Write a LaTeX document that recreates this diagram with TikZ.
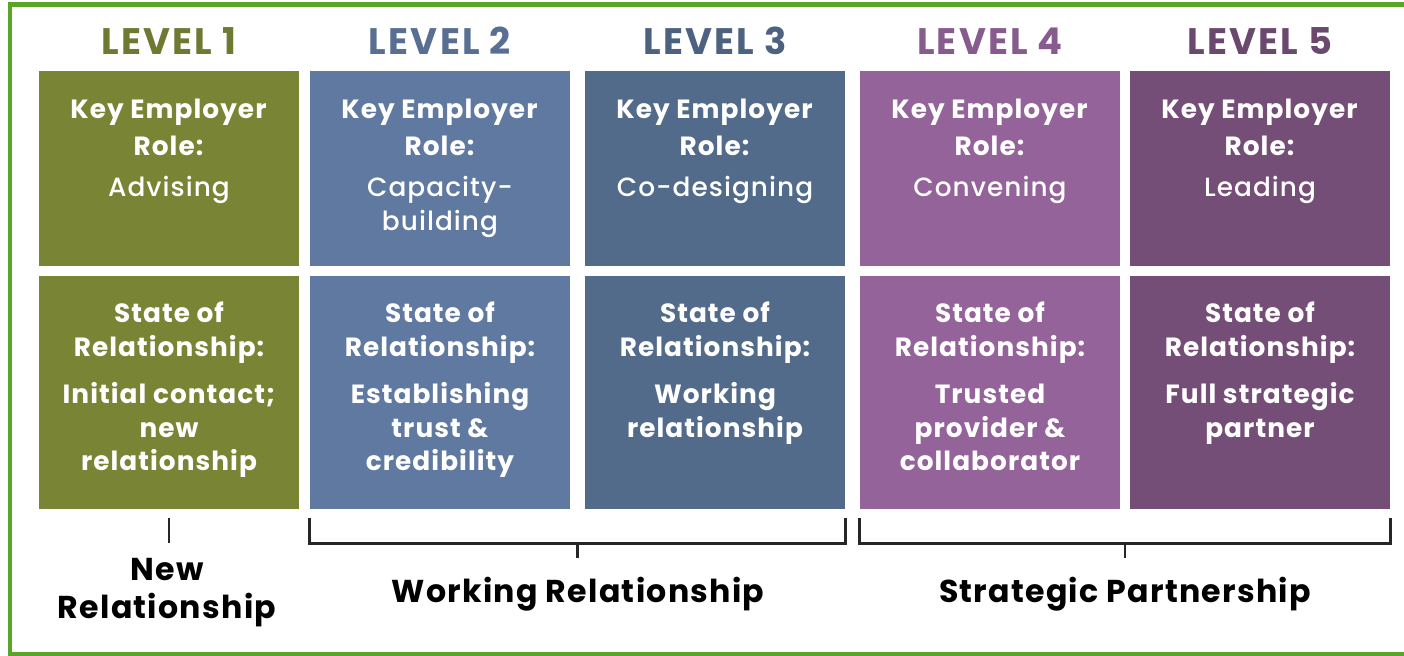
\documentclass[tikz,border=0pt]{standalone}
\usepackage{fontspec}
\setmainfont{Poppins}[UprightFont={* Medium}, BoldFont={* Bold}, LetterSpace=4]
\usepackage{xcolor}
\definecolor{lvOne}{HTML}{7A8435}
\definecolor{lvTwo}{HTML}{6079A0}
\definecolor{lvThree}{HTML}{536B8B}
\definecolor{lvFour}{HTML}{93639A}
\definecolor{lvFive}{HTML}{744E76}
\definecolor{frameGreen}{HTML}{5AA428}
\usetikzlibrary{calc,positioning}

\begin{document}
\begin{tikzpicture}[x=0.02cm, y=-0.02cm,
    head/.style={font=\fontsize{21}{24}\selectfont\bfseries\addfontfeatures{LetterSpace=6}, inner sep=0pt},
    cell/.style={rectangle, minimum width=260*0.02cm, inner sep=0pt},
    roletxt/.style={white, align=center, inner sep=0pt, font=\fontsize{15}{21}\selectfont},
    statetxt/.style={white, align=center, inner sep=0pt, font=\fontsize{15}{19.3}\selectfont\bfseries},
    grp/.style={align=center, inner sep=0pt, font=\fontsize{18}{21.6}\selectfont\bfseries},
    brk/.style={line width=1.6pt, black!85}
  ]
    \useasboundingbox (0,0) rectangle (1404,656);
    \draw[frameGreen, line width=2.8pt] (1410,4.5) -| (10,654.5) -- (1410,654.5);

    \foreach \i/\x/\col/\role/\state in {
        1/169/lvOne/{Advising}/{Initial contact;\\new\\relationship},
        2/440/lvTwo/{Capacity-\\[-2pt]building}/{Establishing\\trust \&\\credibility},
        3/715/lvThree/{Co-designing}/{Working\\relationship},
        4/990/lvFour/{Convening}/{Trusted\\provider \&\\collaborator},
        5/1260/lvFive/{Leading}/{Full strategic\\partner}} {
      \node[head, text=\col!92!black] (lev\i) at (\x,41) {LEVEL \i};
      \node[cell, fill=\col, minimum height=195*0.02cm] (role\i) at (\x,168.5) {};
      \node[cell, fill=\col, minimum height=233*0.02cm] (state\i) at (\x,392.5) {};
      \node[roletxt, below=16pt of role\i.north] (rt\i) {\textbf{Key Employer}\\\textbf{Role:}\\[2.5pt]\role};
      \node[statetxt, below=14.5pt of state\i.north] (st\i) {State of\\Relationship:\\[7.5pt]\state};
    }

    \node[grp] (newrel) at (167,593) {New\\Relationship};
    \node[grp] (work) at (578,594) {Working Relationship};
    \node[grp] (strat) at (1125,594) {Strategic Partnership};

    \draw[brk] ([yshift=-5.1pt]state1.south) -- ([yshift=-19.3pt]state1.south);
    \draw[brk] ([yshift=-5.1pt]state2.south west) |- ([yshift=-19.3pt]state3.south east) -- ([yshift=-5.1pt]state3.south east);
    \draw[brk] ($(state2.south west)!.5!(state3.south east)+(0,-19.3pt)$) -- ($(state2.south west)!.5!(state3.south east)+(0,-27.9pt)$);
    \draw[brk] ([yshift=-5.1pt]state4.south west) |- ([yshift=-19.3pt]state5.south east) -- ([yshift=-5.1pt]state5.south east);
    \draw[brk] ($(state4.south west)!.5!(state5.south east)+(0,-19.3pt)$) -- ($(state4.south west)!.5!(state5.south east)+(0,-27.9pt)$);
  \end{tikzpicture}
\end{document}
